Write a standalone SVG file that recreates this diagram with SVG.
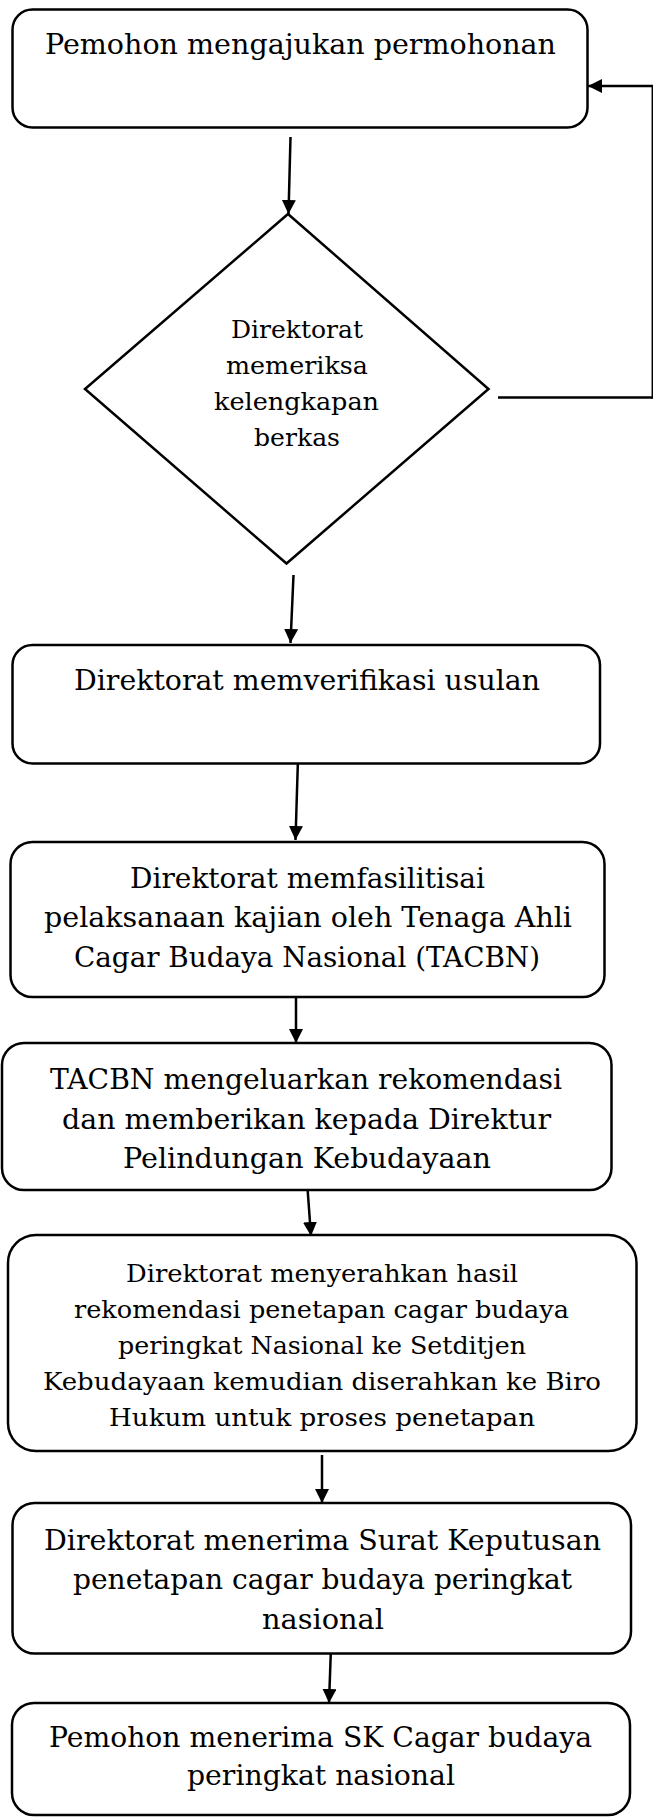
<svg xmlns="http://www.w3.org/2000/svg" width="653" height="1817" viewBox="0 0 653 1817">
<style>
.box{fill:#fff;stroke:#000;stroke-width:2.5}
.t{font-family:"DejaVu Serif","Liberation Serif",serif;font-size:28px;fill:#000}
.td{font-size:25px}
.ts{font-size:25px}
.c{fill:none;stroke:#000;stroke-width:2.5}
</style>
<defs>
<marker id="ah" markerUnits="userSpaceOnUse" markerWidth="16" markerHeight="16" refX="14" refY="7" orient="auto">
<path d="M0,0 L14,7 L0,14 Z" fill="#000"/>
</marker>
</defs>
<rect width="653" height="1817" fill="#fff"/>
<g id="connectors">
<line class="c" x1="290.5" y1="137" x2="288.5" y2="214" marker-end="url(#ah)"/>
<line class="c" x1="293.5" y1="575" x2="290.5" y2="643" marker-end="url(#ah)"/>
<line class="c" x1="298" y1="758" x2="295.5" y2="840" marker-end="url(#ah)"/>
<line class="c" x1="296" y1="997" x2="296" y2="1043" marker-end="url(#ah)"/>
<line class="c" x1="307.5" y1="1188" x2="311" y2="1236" marker-end="url(#ah)"/>
<line class="c" x1="322" y1="1455" x2="322" y2="1503" marker-end="url(#ah)"/>
<line class="c" x1="331" y1="1647" x2="329" y2="1703" marker-end="url(#ah)"/>
<line class="c" x1="498" y1="397.5" x2="653" y2="397.5"/>
<line x1="652.3" y1="398.5" x2="652.3" y2="85" stroke="#000" stroke-width="1.5"/>
<line class="c" x1="653" y1="86" x2="588" y2="86" marker-end="url(#ah)"/>
</g>
<g id="n1">
<rect class="box" x="12.5" y="9.5" width="575" height="118" rx="20"/>
<text class="t" x="45" y="54" textLength="511" lengthAdjust="spacingAndGlyphs">Pemohon mengajukan permohonan</text>
</g>
<g id="n2">
<polygon class="box" points="288,214 488.5,389 286.5,563.5 85,389"/>
<text class="t td" x="231" y="338" textLength="132" lengthAdjust="spacingAndGlyphs">Direktorat</text>
<text class="t td" x="226" y="374" textLength="142" lengthAdjust="spacingAndGlyphs">memeriksa</text>
<text class="t td" x="214" y="410" textLength="165" lengthAdjust="spacingAndGlyphs">kelengkapan</text>
<text class="t td" x="254" y="446" textLength="86" lengthAdjust="spacingAndGlyphs">berkas</text>
</g>
<g id="n3">
<rect class="box" x="12.5" y="645" width="587.5" height="118.5" rx="20"/>
<text class="t" x="74" y="690" textLength="466" lengthAdjust="spacingAndGlyphs">Direktorat memverifikasi usulan</text>
</g>
<g id="n4">
<rect class="box" x="10.5" y="842" width="594" height="155" rx="22"/>
<text class="t" x="130" y="888" textLength="355" lengthAdjust="spacingAndGlyphs">Direktorat memfasilitisai</text>
<text class="t" x="44" y="927" textLength="528" lengthAdjust="spacingAndGlyphs">pelaksanaan kajian oleh Tenaga Ahli</text>
<text class="t" x="74" y="967" textLength="466" lengthAdjust="spacingAndGlyphs">Cagar Budaya Nasional (TACBN)</text>
</g>
<g id="n5">
<rect class="box" x="2" y="1043" width="609.5" height="147" rx="22"/>
<text class="t" x="50" y="1089" textLength="512" lengthAdjust="spacingAndGlyphs">TACBN mengeluarkan rekomendasi</text>
<text class="t" x="62" y="1129" textLength="489" lengthAdjust="spacingAndGlyphs">dan memberikan kepada Direktur</text>
<text class="t" x="123" y="1168" textLength="368" lengthAdjust="spacingAndGlyphs">Pelindungan Kebudayaan</text>
</g>
<g id="n6">
<rect class="box" x="8" y="1235" width="628.5" height="216" rx="28"/>
<text class="t ts" x="126" y="1282" textLength="392" lengthAdjust="spacingAndGlyphs">Direktorat menyerahkan hasil</text>
<text class="t ts" x="74" y="1318" textLength="495" lengthAdjust="spacingAndGlyphs">rekomendasi penetapan cagar budaya</text>
<text class="t ts" x="118" y="1354" textLength="408" lengthAdjust="spacingAndGlyphs">peringkat Nasional ke Setditjen</text>
<text class="t ts" x="43" y="1390" textLength="558" lengthAdjust="spacingAndGlyphs">Kebudayaan kemudian diserahkan ke Biro</text>
<text class="t ts" x="109" y="1426" textLength="426" lengthAdjust="spacingAndGlyphs">Hukum untuk proses penetapan</text>
</g>
<g id="n7">
<rect class="box" x="12.5" y="1503" width="618.5" height="150.5" rx="22"/>
<text class="t" x="44" y="1550" textLength="557" lengthAdjust="spacingAndGlyphs">Direktorat menerima Surat Keputusan</text>
<text class="t" x="73" y="1589" textLength="499" lengthAdjust="spacingAndGlyphs">penetapan cagar budaya peringkat</text>
<text class="t" x="262" y="1629" textLength="122" lengthAdjust="spacingAndGlyphs">nasional</text>
</g>
<g id="n8">
<rect class="box" x="12" y="1703" width="618" height="112" rx="22"/>
<text class="t" x="49" y="1747" textLength="543" lengthAdjust="spacingAndGlyphs">Pemohon menerima SK Cagar budaya</text>
<text class="t" x="187" y="1785" textLength="268" lengthAdjust="spacingAndGlyphs">peringkat nasional</text>
</g>
</svg>
